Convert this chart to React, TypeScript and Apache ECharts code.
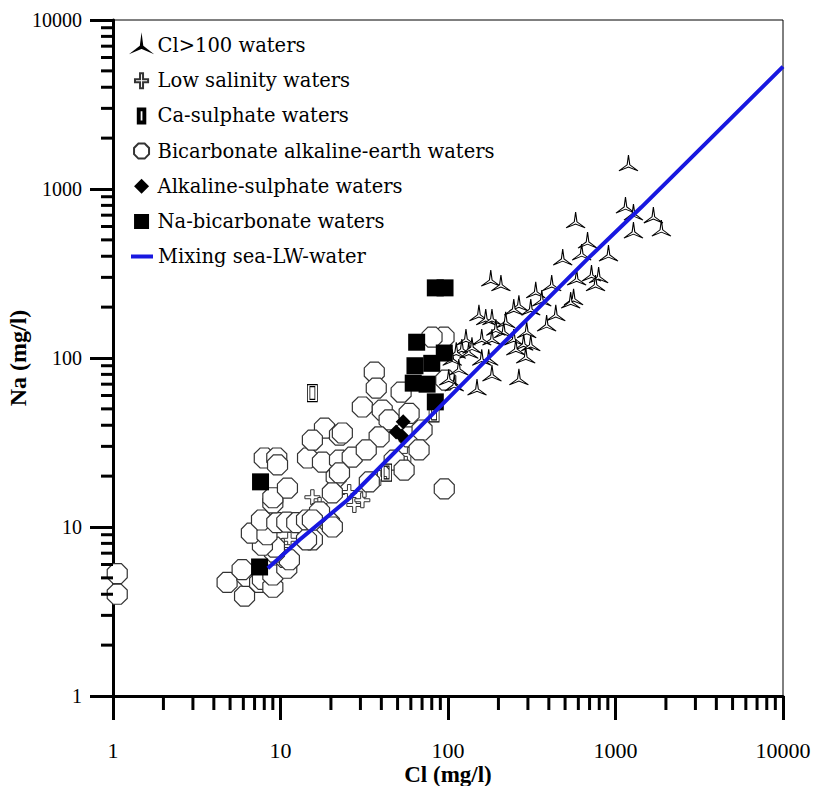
import React, { useEffect, useRef } from "react";
import * as echarts from "echarts";

// [Cl, Na] in mg/l
const clOver100: [number, number][] = [
  [1195, 1426], [1147, 804], [1280, 731], [1683, 702], [1879, 588], [1280, 572],
  [578, 656], [681, 499], [628, 424], [908, 418], [484, 396], [586, 301],
  [719, 318], [793, 310], [760, 278], [562, 230], [540, 220], [416, 278],
  [334, 253], [363, 226], [440, 185], [388, 161], [312, 200], [265, 211],
  [247, 200], [180, 297], [207, 278], [153, 185], [168, 175], [183, 175],
  [221, 168], [215, 147], [193, 152], [295, 147], [247, 133], [283, 124],
  [312, 123], [254, 116], [291, 104], [183, 133], [159, 133], [128, 133],
  [121, 116], [133, 111], [175, 101], [183, 81.5], [265, 77.3], [149, 67.3],
  [112, 111], [116, 88.4], [109, 71.1], [106, 101], [101, 77], [139, 119], [159, 101],
];

const lowSalinity: [number, number][] = [
  [15.5, 15.0], [13.0, 9.6], [17.1, 13.5], [21.8, 15.9], [25.7, 16.1], [27.6, 13.5],
  [30.8, 14.4], [31.7, 16.6], [38.8, 19.5], [11.3, 8.4], [10.3, 7.7], [58.6, 26.7],
];

const caSulphate: [number, number][] = [
  [15.5, 62], [82.6, 47], [43, 21],
];

const bicarbonateAlkEarth: [number, number][] = [
  [1.06, 5.3], [1.06, 4.0], [4.8, 4.7], [6.1, 3.9], [6.3, 5.1], [5.9, 5.6],
  [7.5, 4.7], [7.8, 4.9], [9.0, 4.4], [9.0, 5.2], [10.9, 5.7], [10.6, 6.6],
  [11.3, 6.4], [9.2, 7.1], [9.2, 7.6], [7.8, 7.8], [6.7, 9.2], [8.3, 9.0],
  [7.7, 11.0], [9.5, 10.6], [10.9, 10.7], [12.5, 10.6], [14.3, 11.0], [15.5, 8.4],
  [14.3, 8.4], [19.6, 10.6], [20.4, 10.0], [17.1, 12.3], [15.5, 11.0], [9.0, 13.9],
  [9.0, 14.9], [11.0, 17.0], [8.0, 25.6], [9.5, 25.6], [9.6, 23.3], [14.5, 25.6],
  [17.8, 24.2], [22.5, 24.9], [21.5, 19.8], [18.3, 38.5], [22.5, 35], [15.5, 32.7],
  [36.3, 82.6], [37.3, 66.4], [30.8, 51.3], [40.5, 49.2], [52.5, 62.9], [44.5, 43],
  [23.4, 36], [38.8, 34.1], [58.6, 34.1], [70, 37.5], [67.2, 28.6], [26.8, 25.9],
  [32.5, 28.6], [22.5, 20.9], [94.7, 133], [80.3, 133], [97, 74], [95, 16.8],
  [47.7, 24.9], [54.7, 21.7], [33.9, 18.5], [58.6, 47], [20.4, 15.9],
];

const alkalineSulphate: [number, number][] = [
  [54, 42], [49, 36.5], [53, 34.5],
];

const naBicarbonate: [number, number][] = [
  [7.6, 18.5], [7.5, 5.8], [84, 260], [96, 260], [65, 124], [95, 107],
  [63.5, 90], [80, 93], [62, 71], [75, 70], [84, 55],
];

const mixingLine: [number, number][] = [
  [8.4, 5.7], [13, 8.4], [25, 14.4], [153, 88], [691, 391], [1430, 782], [10000, 5300],
];

const decades = [1, 10, 100, 1000];
const minorMultipliers = [2, 3, 4, 5, 6, 7, 8, 9];
const minorTickValues = decades.flatMap((d) => minorMultipliers.map((m) => m * d));

const SERIF = "Liberation Serif";
const LEGEND_FONT = "DejaVu Serif";

const TRISTAR = "path://M0,-10L1.2,-0.7L8.66,5L0,1.4L-8.66,5L-1.2,-0.7Z";
// same star, with empty corners so the legend swatch stays small
const TRISTAR_SWATCH = "path://M-14,-13L-14,-13M14,9L14,9M0,-10L1.2,-0.7L8.66,5L0,1.4L-8.66,5L-1.2,-0.7Z";
const HOLLOW_PLUS = "path://M-1.6,-8H1.6V-1.6H7V1.6H1.6V8H-1.6V1.6H-7V-1.6H-1.6Z";
const DOUBLE_RECT = "path://M0,0H8V16H0Z M2,2V14H6V2Z";
const OCTAGON = "path://M-3.83,-9.24L3.83,-9.24L9.24,-3.83L9.24,3.83L3.83,9.24L-3.83,9.24L-9.24,3.83L-9.24,-3.83Z";
const SQUARE = "path://M0,0H10V10H0Z";
const DIAMOND = "path://M0,-10L10,0L0,10L-10,0Z";
const BAR = "path://M0,0H22V4H0Z";

const N_TRI = "Cl>100 waters";
const N_LOW = "Low salinity waters";
const N_CAS = "Ca-sulphate waters";
const N_BIC = "Bicarbonate alkaline-earth waters";
const N_ALK = "Alkaline-sulphate waters";
const N_NAB = "Na-bicarbonate waters";
const N_MIX = "Mixing sea-LW-water";

const tickFormatter = (v: number) => String(Math.round(v));

export default function App() {
  const ref = useRef<HTMLDivElement>(null);

  useEffect(() => {
    if (!ref.current) return;
    const chart = echarts.init(ref.current, null, { renderer: "svg" });

    const legendText = { fontFamily: LEGEND_FONT, fontSize: 19.5, color: "#000", lineHeight: 19 };

    const option: any = {
      animation: false,
      backgroundColor: "#fff",
      grid: {
        left: 113,
        right: 33,
        top: 20,
        bottom: 90,
        show: true,
        borderColor: "#000",
        borderWidth: 1,
        containLabel: false,
        outerBoundsMode: "none",
      },
      legend: [
        {
          orient: "vertical",
          left: 126,
          top: 30.5,
          itemWidth: 22,
          itemHeight: 15,
          itemGap: 15.2,
          selectedMode: false,
          textStyle: legendText,
          data: [
            { name: N_TRI, icon: TRISTAR_SWATCH },
            { name: N_LOW, icon: HOLLOW_PLUS },
            { name: N_CAS, icon: DOUBLE_RECT },
            { name: N_BIC, icon: OCTAGON },
            { name: N_ALK, icon: DIAMOND },
            { name: N_NAB, icon: SQUARE },
          ],
        },
        {
          orient: "vertical",
          left: 126,
          top: 241.5,
          itemWidth: 22,
          itemHeight: 4,
          selectedMode: false,
          textStyle: legendText,
          data: [{ name: N_MIX, icon: BAR }],
        },
      ],
      xAxis: {
        type: "log",
        logBase: 10,
        min: 1,
        max: 10000,
        axisLine: { lineStyle: { color: "#000", width: 3 } },
        axisTick: { show: true, length: 24, lineStyle: { color: "#000", width: 3 } },
        axisLabel: { fontFamily: SERIF, fontSize: 22, color: "#000", margin: 43, formatter: tickFormatter },
        splitLine: { show: false },
        name: "Cl (mg/l)",
        nameLocation: "middle",
        nameGap: 67,
        nameMoveOverlap: false,
        nameTextStyle: { fontFamily: SERIF, fontWeight: "bold", fontSize: 23, color: "#000" },
      },
      yAxis: {
        type: "log",
        logBase: 10,
        min: 1,
        max: 10000,
        axisLine: { lineStyle: { color: "#000", width: 3 } },
        axisTick: { show: true, length: 23, lineStyle: { color: "#000", width: 3 } },
        axisLabel: { fontFamily: SERIF, fontSize: 20, color: "#000", margin: 31, formatter: tickFormatter },
        splitLine: { show: false },
        name: "Na (mg/l)",
        nameLocation: "middle",
        nameGap: 83,
        nameMoveOverlap: false,
        nameTextStyle: { fontFamily: SERIF, fontWeight: "bold", fontSize: 24, color: "#000" },
      },
      series: [
        {
          name: N_LOW,
          type: "scatter",
          symbol: HOLLOW_PLUS,
          symbolSize: 15,
          itemStyle: { color: "#fff", borderColor: "#333", borderWidth: 1, opacity: 1 },
          data: lowSalinity,
          silent: true,
        },
        {
          name: N_BIC,
          type: "scatter",
          symbol: OCTAGON,
          symbolSize: 20,
          itemStyle: { color: "#fff", borderColor: "#333", borderWidth: 1.2, opacity: 1 },
          data: bicarbonateAlkEarth,
          silent: true,
        },
        {
          name: N_CAS,
          type: "scatter",
          symbol: DOUBLE_RECT,
          symbolSize: [10, 17],
          itemStyle: { color: "#fff", borderColor: "#000", borderWidth: 1, opacity: 1 },
          data: caSulphate,
          silent: true,
        },
        {
          name: N_TRI,
          type: "scatter",
          symbol: TRISTAR,
          symbolSize: [19, 16],
          itemStyle: { color: "#fff", borderColor: "#000", borderWidth: 1, opacity: 1 },
          data: clOver100,
          silent: true,
        },
        {
          name: N_ALK,
          type: "scatter",
          symbol: "diamond",
          symbolSize: 15,
          itemStyle: { color: "#000", opacity: 1 },
          data: alkalineSulphate,
          silent: true,
        },
        {
          name: N_NAB,
          type: "scatter",
          symbol: "rect",
          symbolSize: 17,
          itemStyle: { color: "#000", opacity: 1 },
          data: naBicarbonate,
          silent: true,
        },
        {
          name: N_MIX,
          type: "line",
          symbol: "none",
          lineStyle: { color: "#1818e0", width: 4 },
          itemStyle: { color: "#1818e0" },
          data: mixingLine,
          z: 5,
          silent: true,
        },
        {
          type: "custom",
          silent: true,
          data: minorTickValues.map((v) => [v, 1]),
          renderItem: (_params: any, api: any) => {
            const p = api.coord([api.value(0), api.value(1)]);
            return {
              type: "line",
              shape: { x1: p[0], y1: p[1], x2: p[0], y2: p[1] + 14 },
              style: { stroke: "#000", lineWidth: 3 },
            };
          },
          z: 6,
        },
        {
          type: "custom",
          silent: true,
          data: minorTickValues.map((v) => [1, v]),
          renderItem: (_params: any, api: any) => {
            const p = api.coord([api.value(0), api.value(1)]);
            return {
              type: "line",
              shape: { x1: p[0], y1: p[1], x2: p[0] - 12, y2: p[1] },
              style: { stroke: "#000", lineWidth: 3 },
            };
          },
          z: 6,
        },
      ],
    };

    chart.setOption(option);
    return () => chart.dispose();
  }, []);

  return (
    <div
      ref={ref}
      style={{ position: "fixed", left: 0, top: 0, width: 816, height: 786, background: "#fff" }}
    />
  );
}
